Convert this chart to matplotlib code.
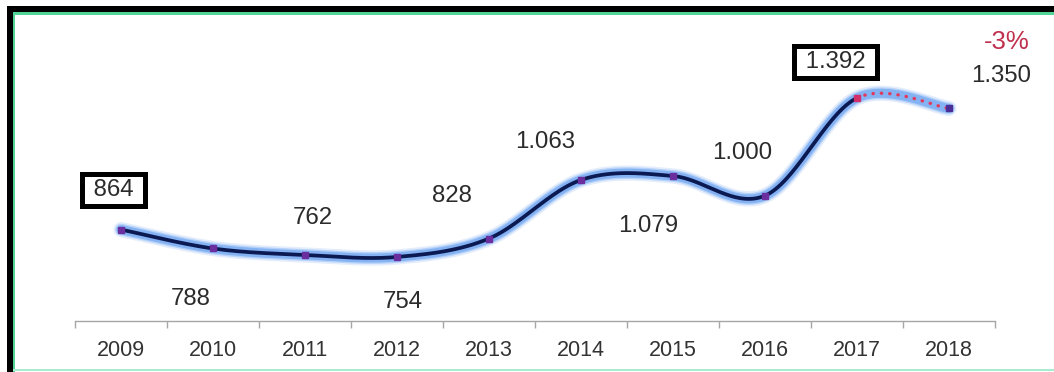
import numpy as np
import matplotlib
matplotlib.use("Agg")
import matplotlib.pyplot as plt
from matplotlib.patches import Rectangle

plt.rcParams["font.family"] = ["Liberation Sans", "DejaVu Sans"]

# ---- data -------------------------------------------------------------
years = ["2009", "2010", "2011", "2012", "2013",
         "2014", "2015", "2016", "2017", "2018"]
values = [864, 788, 762, 754, 828, 1063, 1079, 1000, 1392, 1350]
change_text = "-3%"
boxed = {"2009", "2017"}
forecast_from = "2017"          # last segment drawn dotted

# label placement (pixel offsets from each point)
label_offsets = [(-7.5, 39.5), (-22, -51), (8, 37), (6, -45), (-37, 43),
                 (-36, 37.5), (-25, -50), (-23, 43), (-21.5, 36), (52, 32)]
change_offset = (58, 66)

W, H = 1054, 372
fig = plt.figure(figsize=(W / 100, H / 100), dpi=100)
fig.patch.set_facecolor("white")


def px_rect(x0, y0, x1, y1, color):
    fig.add_artist(Rectangle((x0 / W, 1 - y1 / H), (x1 - x0) / W, (y1 - y0) / H,
                             transform=fig.transFigure, facecolor=color,
                             edgecolor="none", zorder=0))


# frame
px_rect(7, 6, W, 12, "black")
px_rect(7, 6, 12.5, H, "black")
px_rect(12.5, 12, W, 14.5, "#52d496")
px_rect(12.5, 12, 15, H, "#52d496")
px_rect(12.5, 368.5, W, 371, "#a9ecd0")

ax = fig.add_axes([75 / W, 51 / H, 920 / W, 306 / H])
ax.set_facecolor("none")
ax.set_xlim(-0.5, len(years) - 0.5)
ax.set_ylim(497, 1725)

x = np.arange(len(years), dtype=float)
y = np.array(values, dtype=float)
pts = np.column_stack([x, y])
n = len(pts)


def segment(i, steps=60):
    p0 = pts[i - 1] if i > 0 else pts[i]
    p1 = pts[i]
    p2 = pts[i + 1]
    p3 = pts[i + 2] if i + 2 < n else pts[i + 1]
    c1 = p1 + (p2 - p0) / 6.0
    c2 = p2 - (p3 - p1) / 6.0
    t = np.linspace(0, 1, steps)[:, None]
    return ((1 - t) ** 3 * p1 + 3 * (1 - t) ** 2 * t * c1
            + 3 * (1 - t) * t ** 2 * c2 + t ** 3 * p2)


k = years.index(forecast_from)
solid = np.vstack([segment(i) for i in range(k)])
dotted = np.vstack([segment(i) for i in range(k, n - 1)])
full = np.vstack([solid, dotted])

# soft blue glow under the line
for lw, a in [(11, 0.16), (8.5, 0.3), (6.5, 0.5)]:
    ax.plot(full[:, 0], full[:, 1], color="#5294f0", lw=lw, alpha=a,
            solid_capstyle="round", zorder=2)

ax.plot(solid[:, 0], solid[:, 1], color="#0b1a52", lw=2.7,
        solid_capstyle="round", zorder=3)
ax.plot(dotted[:, 0], dotted[:, 1], color="#e23a5c", lw=2.4,
        linestyle=(0, (0.1, 2.4)), dash_capstyle="round", zorder=3)

marker_colors = ["#6a2e9e"] * n
marker_colors[k] = "#d2306a"
marker_colors[-1] = "#4a2f98"
for xi, yi, mc in zip(x, y, marker_colors):
    ax.plot(xi, yi, marker="s", ms=4.4, color=mc, mec=mc, zorder=4)

# value labels
for i, (yr, v) in enumerate(zip(years, values)):
    txt = f"{v:,}".replace(",", ".")
    dx, dy = label_offsets[i]
    kw = {}
    if yr in boxed:
        txt = f" {txt} "
        kw["bbox"] = dict(boxstyle="square,pad=0.22", fc="white",
                          ec="black", lw=3.6)
    ax.annotate(txt, (x[i], y[i]), xytext=(dx, dy), textcoords="offset pixels",
                ha="center", va="center", fontsize=17.3, color="#2b2b2b",
                zorder=5, **kw)

ax.annotate(change_text, (x[-1], y[-1]), xytext=change_offset,
            textcoords="offset pixels", ha="center", va="center",
            fontsize=18.5, color="#c0304f", zorder=5)

# axis
for s in ["left", "right", "top"]:
    ax.spines[s].set_visible(False)
ax.spines["bottom"].set_color("#a6a6a6")
ax.spines["bottom"].set_linewidth(1.0)
ax.set_yticks([])
ax.set_xticks(np.arange(-0.5, n, 1.0))
ax.set_xticklabels([])
ax.tick_params(axis="x", which="major", length=5, color="#a6a6a6", width=1.0)
ax.set_xticks(x, minor=True)
ax.set_xticklabels(years, minor=True)
ax.tick_params(axis="x", which="minor", length=0, pad=13.5,
               labelsize=15.5, labelcolor="#333333")

fig.savefig("out.png", dpi=100, facecolor="white")
